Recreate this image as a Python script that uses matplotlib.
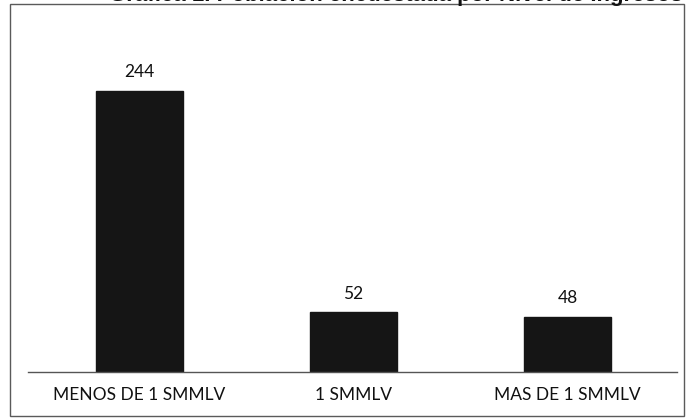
import matplotlib
matplotlib.use("Agg")
import matplotlib.pyplot as plt
from matplotlib.patches import Rectangle

categories = ["MENOS DE 1 SMMLV", "1 SMMLV", "MAS DE 1 SMMLV"]
values = [244, 52, 48]
title = "Gráfica 1. Población encuestada por Nivel de Ingresos"

W, H = 688, 420
fig = plt.figure(figsize=(W / 100, H / 100), dpi=100)
fig.patch.set_facecolor("white")

# outer frame
fig.patches.append(Rectangle((10 / W, 4 / H), 674 / W, 412 / H, transform=fig.transFigure,
                             fill=False, edgecolor="#5a5a5a", linewidth=1.0))

# title, cut off at the top edge as in the scanned reference
fig.text(0.575, 1 - 1 / H, title, ha="center", va="baseline",
         fontsize=16, fontweight="bold", family="Liberation Sans", color="#111111")

ax = fig.add_axes([28 / W, 1 - 372 / H, 649 / W, 332 / H])
x = list(range(len(categories)))
bars = ax.bar(x, values, width=0.405, color="#151515", edgecolor="#151515")
ax.set_xlim(-0.52, 2.51)
ax.set_ylim(0, 288)
for xi, v in zip(x, values):
    ax.text(xi, v + 9, str(v), ha="center", va="bottom", fontsize=12.5,
            family="Lato", color="#111111")

for s in ["top", "right", "left"]:
    ax.spines[s].set_visible(False)
ax.spines["bottom"].set_color("#555555")
ax.spines["bottom"].set_linewidth(1.0)
ax.set_yticks([])
ax.set_xticks(x)
ax.set_xticklabels(categories, fontsize=12.5, family="Lato", color="#111111")
ax.tick_params(axis="x", length=0, pad=11)

fig.savefig("out.png", dpi=100)
